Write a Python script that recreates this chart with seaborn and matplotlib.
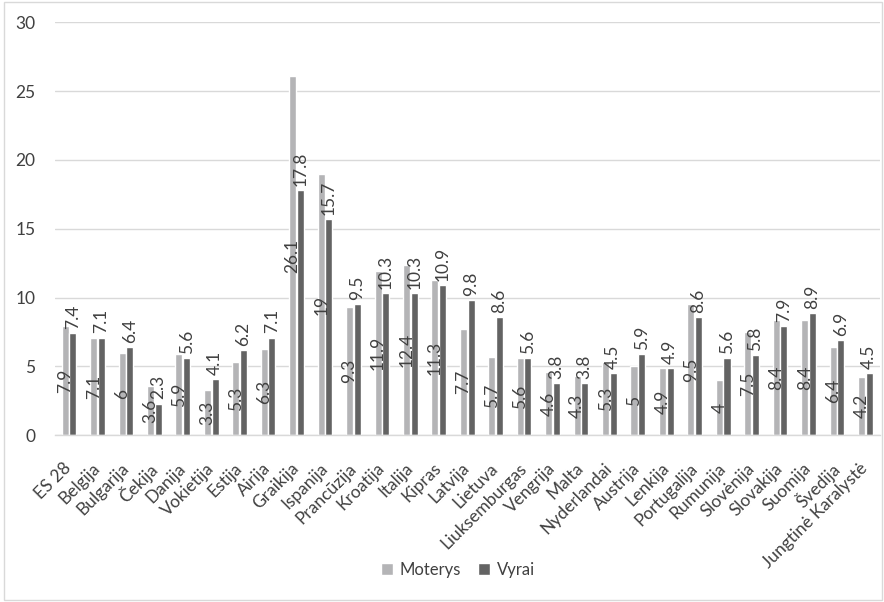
import matplotlib
matplotlib.use("Agg")
import matplotlib.pyplot as plt
import seaborn as sns
import pandas as pd
from matplotlib.patches import Rectangle

categories = ["ES 28", "Belgija", "Bulgarija", "Čekija", "Danija", "Vokietija", "Estija",
              "Airija", "Graikija", "Ispanija", "Prancūzija", "Kroatija", "Italija", "Kipras",
              "Latvija", "Lietuva", "Liuksemburgas", "Vengrija", "Malta", "Nyderlandai",
              "Austrija", "Lenkija", "Portugalija", "Rumunija", "Slovėnija", "Slovakija",
              "Suomija", "Švedija", "Jungtinė Karalystė"]
moterys = [7.9, 7.1, 6, 3.6, 5.9, 3.3, 5.3, 6.3, 26.1, 19, 9.3, 11.9, 12.4, 11.3, 7.7, 5.7,
           5.6, 4.6, 4.3, 5.3, 5, 4.9, 9.5, 4, 7.5, 8.4, 8.4, 6.4, 4.2]
vyrai = [7.4, 7.1, 6.4, 2.3, 5.6, 4.1, 6.2, 7.1, 17.8, 15.7, 9.5, 10.3, 10.3, 10.9, 9.8, 8.6,
         5.6, 3.8, 3.8, 4.5, 5.9, 4.9, 8.6, 5.6, 5.8, 7.9, 8.9, 6.9, 4.5]
series_names = ["Moterys", "Vyrai"]
y_ticks = [0, 5, 10, 15, 20, 25, 30]

df = pd.DataFrame({
    "Šalis": categories * 2,
    "Reikšmė": moterys + vyrai,
    "Lytis": [series_names[0]] * len(categories) + [series_names[1]] * len(categories),
})

sns.set_theme(style="white")
plt.rcParams["font.family"] = ["Lato", "DejaVu Sans"]
text_col = "#404040"
fs = 12.5

fig = plt.figure(figsize=(8.84, 6.02), dpi=100)
ax = fig.add_axes([0.062, 0.277, 0.933, 0.686])

palette = {"Moterys": "#B4B4B6", "Vyrai": "#636363"}
sns.barplot(data=df, x="Šalis", y="Reikšmė", hue="Lytis", palette=palette,
            width=0.54, gap=0.08, ax=ax, saturation=1, legend=True)

ax.set_ylim(0, 30)
ax.set_yticks(y_ticks)
ax.set_xlim(-0.5, len(categories) - 0.5)
ax.grid(axis="y", color="#D9D9D9", linewidth=1)
ax.set_axisbelow(True)
for s in ["top", "right", "left"]:
    ax.spines[s].set_visible(False)
ax.spines["bottom"].set_color("#D9D9D9")
ax.spines["bottom"].set_linewidth(1)
ax.set_xlabel("")
ax.set_ylabel("")
ax.tick_params(axis="y", length=0, pad=14, labelsize=fs, labelcolor=text_col)
ax.set_xticks(range(len(categories)))
ax.set_xticklabels(categories, rotation=45, ha="right", va="center",
                   rotation_mode="anchor", fontsize=fs, color=text_col)
ax.tick_params(axis="x", length=0, pad=22)

c_m, c_v = ax.containers[0], ax.containers[1]
ax.bar_label(c_m, labels=[f"{v:g}" for v in moterys], label_type="center",
             rotation=90, fontsize=fs, color=text_col)
ax.bar_label(c_v, labels=[f"{v:g}" for v in vyrai], label_type="edge", padding=3,
             rotation=90, fontsize=fs, color=text_col)

leg = ax.legend(loc="center", bbox_to_anchor=(0.518, 0.053), bbox_transform=fig.transFigure,
                ncol=2, frameon=False, fontsize=12, handlelength=0.75, handleheight=0.75,
                handletextpad=0.4, columnspacing=1.0)
for t in leg.get_texts():
    t.set_color(text_col)

fig.patches.append(Rectangle((0.005, 0.003), 0.993, 0.993, transform=fig.transFigure,
                             fill=False, edgecolor="#D9D9D9", linewidth=1))

fig.savefig("out.png", dpi=100)
